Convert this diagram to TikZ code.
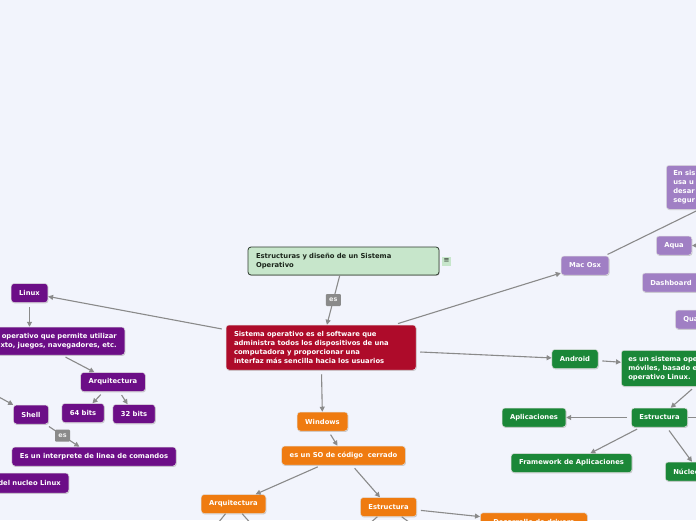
\documentclass[tikz,border=0pt]{standalone}
\usepackage{fontspec}
\setmainfont{DejaVu Sans}
\usepackage{xcolor}
\usetikzlibrary{positioning,arrows.meta,calc,shadows}

\definecolor{bgblue}{HTML}{F2F4FC}
\definecolor{redbox}{HTML}{AE0B2A}
\definecolor{linuxbox}{HTML}{6C0E87}
\definecolor{macbox}{HTML}{A07FC4}
\definecolor{winbox}{HTML}{EF7B10}
\definecolor{andbox}{HTML}{1B8738}
\definecolor{greenlight}{HTML}{C7E6CB}
\definecolor{greendark}{HTML}{2E3A2E}
\definecolor{textdark}{HTML}{1C261C}
\definecolor{linegray}{HTML}{8A8A8A}

\begin{document}
\begin{tikzpicture}[
    x=1pt, y=-1pt,
    font=\fontsize{6.8}{9}\selectfont\bfseries,
    topic/.style={rectangle, rounded corners=3pt, draw=black!12, line width=0.5pt, text=white,
        inner xsep=8pt, inner ysep=2pt, minimum height=19pt,
        drop shadow={shadow xshift=0.6pt, shadow yshift=-0.9pt, fill=black!40, opacity=0.5}},
    eslabel/.style={rectangle, fill=linegray, text=white!88!gray, inner xsep=2.5pt, inner ysep=1.5pt,
        minimum width=15pt, minimum height=12pt, rounded corners=1pt, font=\fontsize{6.5}{6.5}\selectfont\bfseries},
    arrow/.style={-{Triangle[length=5pt,width=5pt]}, draw=linegray, line width=1.1pt, shorten <=4pt},
    link/.style={draw=linegray, line width=1.1pt}
]

% Background and frame
\fill[bgblue] (0,0) rectangle (696,520);
\useasboundingbox (0,0) rectangle (696,520);
\clip (0,0) rectangle (696,520);

% Central topic
\node[topic, fill=redbox, text width=174pt, align=left, minimum height=45pt] (sistema) at (321,347.5)
    {Sistema operativo es el software que\\ administra todos los dispositivos de una\\ computadora y proporcionar una\\ interfaz más sencilla hacia los usuarios};
\node[topic, fill=greenlight, draw=greendark, line width=0.8pt, text=textdark, text width=175pt, align=left,
    minimum height=28pt] (estructuras) at (343.5,261) {Estructuras y diseño de un Sistema\\ Operativo};
\node[rectangle, fill=greenlight, text=textdark, inner sep=0.5pt, minimum size=9pt,
    font=\fontsize{7}{7}\selectfont, right=2.5pt of estructuras] (nota) {≡};

% Linux branch
\node[topic, fill=linuxbox] (linux) at (29.5,293) {Linux};
\node[topic, fill=linuxbox, anchor=east, text width=150pt, align=right, minimum height=28pt] (linuxdef) at (125,341)
    {operativo que permite utilizar\\ xto, juegos, navegadores, etc.};
\node[topic, fill=linuxbox] (arqlinux) at (113,382) {Arquitectura};
\node[topic, fill=linuxbox] (bits64) at (83,413) {64 bits};
\node[topic, fill=linuxbox] (bits32) at (134,414) {32 bits};
\node[topic, fill=linuxbox] (shell) at (31,414.5) {Shell};
\node[topic, fill=linuxbox] (interprete) at (94,456.5) {Es un interprete de linea de comandos};
\node[topic, fill=linuxbox, anchor=east, text width=80pt, align=right, minimum height=20pt] (nucleolinux) at (69,483)
    {del nucleo Linux};

% Windows branch
\node[topic, fill=winbox] (windows) at (322.5,421.5) {Windows};
\node[topic, fill=winbox] (windef) at (343.5,455.5) {es un SO de código\ \ cerrado};
\node[topic, fill=winbox] (arqwin) at (233.5,504) {Arquitectura};
\node[topic, fill=winbox] (estwin) at (388.5,507) {Estructura};
\node[topic, fill=winbox, anchor=north west, minimum width=107pt] (drivers) at (480,512.5) {Desarrollo de drivers};

% Android branch
\node[topic, fill=andbox] (android) at (575,359) {Android};
\node[topic, fill=andbox, anchor=north west, text width=90pt, align=left, inner xsep=7pt, minimum height=36pt] (andtxt) at (621,350)
    {es un sistema ope\\ móviles, basado e\\ operativo Linux.};
\node[topic, fill=andbox] (estand) at (659.5,417.5) {Estructura};
\node[topic, fill=andbox] (aplic) at (534,417.5) {Aplicaciones};
\node[topic, fill=andbox] (framework) at (571.5,463) {Framework de Aplicaciones};
\node[topic, fill=andbox, anchor=west] (nucleo) at (665,471.5) {Núcleo};

% Mac branch
\node[topic, fill=macbox] (macosx) at (585,265.5) {Mac Osx};
\node[topic, fill=macbox, anchor=north west, text width=60pt, align=left, inner xsep=7pt, minimum height=44pt] (mactxt) at (666,165)
    {En sis\\ usa u\\ desar\\ segur};
\node[topic, fill=macbox, anchor=west] (aqua) at (656,245.5) {Aqua};
\node[topic, fill=macbox, anchor=west] (dashboard) at (642,282.5) {Dashboard};
\node[topic, fill=macbox, anchor=west, minimum width=40pt, align=left] (quartz) at (675,319.5) {Qua\hspace{20pt}};

% Free ends of connectors beyond the frame
\coordinate (shellin) at (-25,384);
\coordinate (arqout1) at (200,545);
\coordinate (arqout2) at (270,545);
\coordinate (estout1) at (345,545);
\coordinate (estout2) at (440,545);
\coordinate (andtxtout) at ($(andtxt.south west)+(74,0)$);
\coordinate (estandout) at (730,417.5);
\coordinate (macout) at (790,165);
\coordinate (aquain) at (730,245.5);

% Central connectors
\draw[arrow, shorten <=0pt] (estructuras) -- (sistema) node[eslabel, pos=0.5] (es1) {es};
\draw[arrow] (sistema) -- (linux);
\draw[arrow] (sistema) -- (macosx);
\draw[arrow] (sistema) -- (android);
\draw[arrow] (sistema) -- (windows);

% Linux connectors
\draw[arrow] (linux) -- (linux |- linuxdef.north);
\draw[arrow] ($(linuxdef.south east)+(-63,0)$) -- (arqlinux);
\draw[arrow] (arqlinux) -- (bits64);
\draw[arrow] (arqlinux) -- (bits32);
\draw[arrow, shorten <=0pt] (shellin) -- (shell);
\draw[arrow] (shell) -- (interprete) node[eslabel, midway] (es2) {es};

% Windows connectors
\draw[arrow] (windows) -- (windef);
\draw[arrow] (windef) -- (arqwin);
\draw[arrow] (windef) -- (estwin);
\draw[arrow] (estwin) -- (drivers);
\draw[link] (arqwin) -- (arqout1);
\draw[link] (arqwin) -- (arqout2);
\draw[link] (estwin) -- (estout1);
\draw[link] (estwin) -- (estout2);

% Android connectors
\draw[arrow] (android) -- ($(andtxt.west)+(0,-6)$);
\draw[arrow] (andtxtout) -- (estand);
\draw[arrow] (estand) -- (aplic);
\draw[arrow] (estand) -- (framework);
\draw[arrow] (estand) -- ($(nucleo.north west)+(27,0)$);
\draw[link] (estand) -- (estandout);

% Mac connectors
\draw[link, shorten <=3pt] (macosx) -- (macout);
\draw[arrow, shorten <=0pt] (aquain) -- (aqua);

\end{tikzpicture}
\end{document}
